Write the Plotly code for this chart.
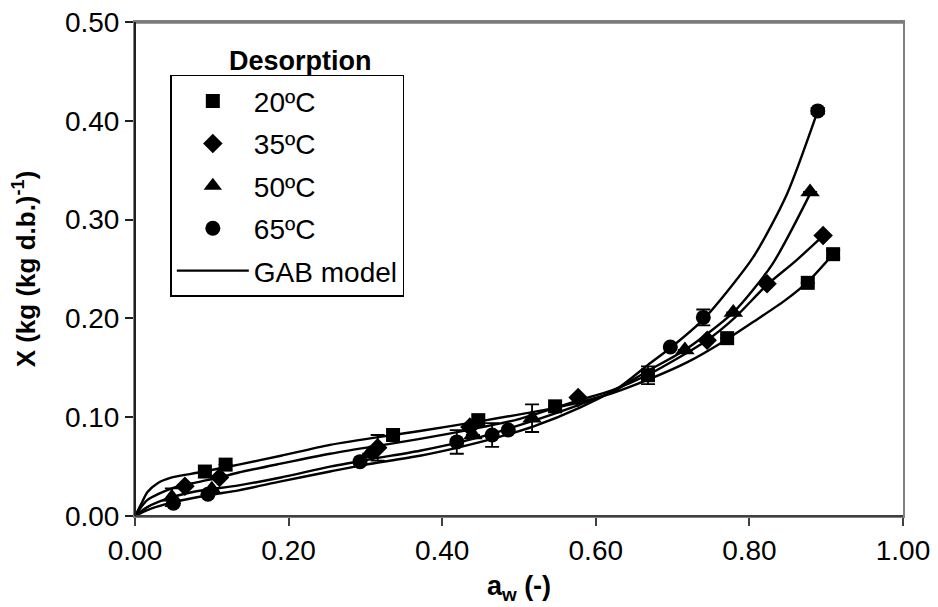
import plotly.graph_objects as go

aw_20 = [0.091, 0.118, 0.336, 0.447, 0.547, 0.668, 0.771, 0.876, 0.909]
X_20 = [0.045, 0.052, 0.082, 0.097, 0.111, 0.1425, 0.180, 0.236, 0.265]
err_20 = [0, 0, 0, 0, 0, 0.009, 0, 0, 0.004]

aw_35 = [0.065, 0.110, 0.316, 0.436, 0.577, 0.745, 0.823, 0.896]
X_35 = [0.030, 0.039, 0.069, 0.090, 0.120, 0.178, 0.235, 0.284]
err_35 = [0, 0, 0.013, 0, 0, 0, 0, 0]

aw_50 = [0.048, 0.100, 0.305, 0.440, 0.517, 0.716, 0.779, 0.879]
X_50 = [0.019, 0.027, 0.063, 0.082, 0.099, 0.168, 0.206, 0.328]
err_50 = [0.009, 0, 0, 0, 0.014, 0, 0, 0]

aw_65 = [0.050, 0.095, 0.293, 0.419, 0.465, 0.486, 0.697, 0.740, 0.889]
X_65 = [0.013, 0.022, 0.055, 0.075, 0.082, 0.087, 0.171, 0.201, 0.410]
err_65 = [0, 0, 0, 0.012, 0.012, 0, 0, 0.008, 0.003]

# ---- GAB model curves ----
gab_aw_20 = [0, 0.008, 0.016, 0.029, 0.048, 0.083, 0.135, 0.19, 0.254, 0.336, 0.371,
             0.45, 0.55, 0.62, 0.668, 0.72, 0.771, 0.81, 0.846, 0.876, 0.909]
gab_X_20 = [0, 0.012, 0.024, 0.033, 0.039, 0.044, 0.052, 0.061, 0.072, 0.082, 0.086,
            0.096, 0.110, 0.124, 0.138, 0.156, 0.179, 0.199, 0.218, 0.237, 0.265]

gab_aw_35 = [0, 0.016, 0.048, 0.08, 0.11, 0.135, 0.19, 0.254, 0.316, 0.371, 0.44,
             0.5, 0.577, 0.62, 0.668, 0.745, 0.78, 0.823, 0.86, 0.898]
gab_X_35 = [0, 0.016, 0.028, 0.034, 0.039, 0.044, 0.053, 0.063, 0.071, 0.078, 0.088,
            0.098, 0.117, 0.127, 0.143, 0.178, 0.200, 0.234, 0.258, 0.285]

gab_aw_50 = [0, 0.016, 0.048, 0.08, 0.135, 0.19, 0.254, 0.31, 0.371, 0.44, 0.517,
             0.58, 0.62, 0.668, 0.716, 0.779, 0.83, 0.879]
gab_X_50 = [0, 0.009, 0.019, 0.025, 0.031, 0.039, 0.050, 0.058, 0.066, 0.078, 0.096,
            0.113, 0.125, 0.147, 0.168, 0.206, 0.255, 0.326]

gab_aw_65 = [0, 0.016, 0.05, 0.095, 0.135, 0.19, 0.254, 0.293, 0.371, 0.419, 0.465,
             0.52, 0.58, 0.63, 0.668, 0.697, 0.74, 0.805, 0.849, 0.889]
gab_X_65 = [0, 0.006, 0.014, 0.021, 0.026, 0.035, 0.045, 0.051, 0.061, 0.069, 0.078,
            0.091, 0.110, 0.130, 0.153, 0.170, 0.199, 0.262, 0.326, 0.410]

x_ticks = [0, 0.2, 0.4, 0.6, 0.8, 1.0]
y_ticks = [0, 0.1, 0.2, 0.3, 0.4, 0.5]

FONT = "Liberation Sans, Arial, sans-serif"

fig = go.Figure()

curves = [(gab_aw_20, gab_X_20), (gab_aw_35, gab_X_35),
          (gab_aw_50, gab_X_50), (gab_aw_65, gab_X_65)]

series = [
    ("20ºC", aw_20, X_20, err_20, "square", 14),
    ("35ºC", aw_35, X_35, err_35, "diamond", 15),
    ("50ºC", aw_50, X_50, err_50, "triangle-up", 17),
    ("65ºC", aw_65, X_65, err_65, "circle", 15),
]

for i, (name, xs, ys, es, sym, sz) in enumerate(series):
    fig.add_trace(go.Scatter(
        x=xs, y=ys, mode="markers", name=name,
        legendgroup=f"g{i}",
        marker=dict(symbol=sym, size=sz, color="black", line=dict(width=0)),
        error_y=dict(type="data", array=es, visible=True, color="black",
                     thickness=1.8, width=7),
    ))

for i, (cx, cy) in enumerate(curves):
    fig.add_trace(go.Scatter(
        x=cx, y=cy, mode="lines", name="GAB model",
        legendgroup="gab", showlegend=(i == 0),
        line=dict(color="black", width=2.4, shape="spline", smoothing=0.7),
    ))

# frame: gray top border, dark bottom/left axis lines
fig.add_shape(type="line", xref="paper", yref="paper", x0=0, y0=0.999, x1=1, y1=0.999,
              line=dict(color="#7a7a7a", width=2.5), layer="above")
fig.add_shape(type="line", xref="paper", yref="paper", x0=0, y0=0, x1=1, y1=0,
              line=dict(color="#404040", width=2), layer="above")
fig.add_shape(type="line", xref="paper", yref="paper", x0=0, y0=0, x1=0, y1=1,
              line=dict(color="#202020", width=2), layer="above")

fig.add_annotation(text="<b>Desorption</b>", xref="paper", yref="paper",
                   x=0.215, y=0.921, xanchor="center", yanchor="middle",
                   showarrow=False,
                   font=dict(family=FONT, size=27, color="black"))

# page body has an 8px margin: plot area lands at x 135..903, y 22..516
fig.update_layout(
    width=938, height=607,
    margin=dict(l=127, r=43, t=14, b=99, autoexpand=False),
    paper_bgcolor="white", plot_bgcolor="white",
    font=dict(family=FONT, size=28, color="black"),
    showlegend=True,
    legend=dict(x=0.046, y=0.893, xanchor="left", yanchor="top",
                bordercolor="black", borderwidth=1.5, bgcolor="white",
                font=dict(family=FONT, size=28, color="black"),
                tracegroupgap=3, itemwidth=72),
    xaxis=dict(range=[0, 1], tickvals=x_ticks, tickformat=".2f", automargin=False,
               showgrid=False, zeroline=False, showline=True, mirror=True,
               linecolor="#808080", linewidth=2, ticks="outside", ticklen=8,
               tickcolor="#404040", tickwidth=1.5, ticklabeloverflow="allow",
               tickfont=dict(family=FONT, size=28),
               title=dict(text="<b>a<sub>w</sub> (-)</b>", standoff=12,
                          font=dict(family=FONT, size=27))),
    yaxis=dict(range=[0, 0.5], tickvals=y_ticks, tickformat=".2f", automargin=False,
               showgrid=False, zeroline=False, showline=True, mirror=True,
               linecolor="#808080", linewidth=2, ticks="outside", ticklen=8,
               tickcolor="#202020", tickwidth=1.5, ticklabeloverflow="allow",
               tickfont=dict(family=FONT, size=28),
               title=dict(text="<b>X (kg (kg d.b.)<sup>-1</sup>)</b>", standoff=30,
                          font=dict(family=FONT, size=26))),
)

fig.write_html("out.html")
